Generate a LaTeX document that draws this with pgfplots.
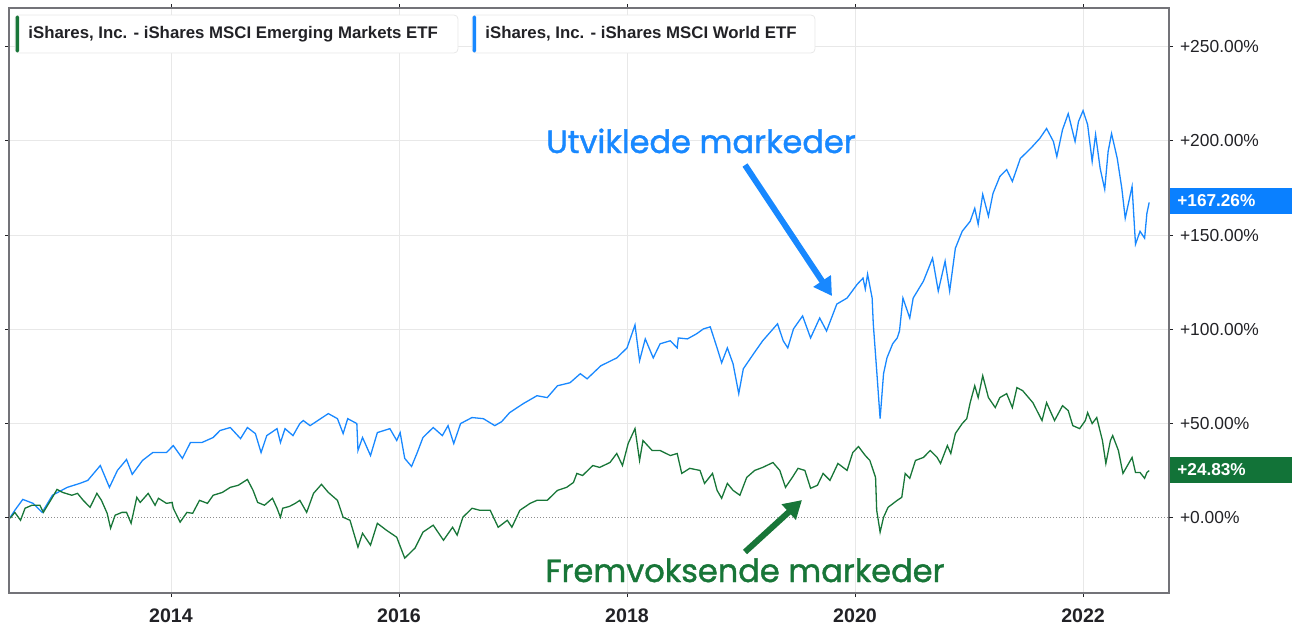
\documentclass[border=0pt]{standalone}
\usepackage{fontspec}
\setmainfont{Liberation Sans}
\newfontfamily\annfont{Poppins}[RawFeature={embolden=1.3}]
\usepackage{pgfplots}
\pgfplotsset{compat=1.18}
\usetikzlibrary{arrows.meta}
\definecolor{wblue}{RGB}{24,136,255}
\definecolor{badgeblue}{RGB}{10,128,255}
\definecolor{egreen}{RGB}{24,118,56}
\definecolor{badgegreen}{RGB}{18,115,56}
\definecolor{txt}{RGB}{34,34,38}
\definecolor{gridc}{RGB}{232,232,232}
\definecolor{framec}{RGB}{115,115,120}
\begin{document}
\begin{tikzpicture}[x=1pt,y=1pt]
\path[use as bounding box] (0,0) rectangle (650,314.5);
\begin{axis}[
  at={(4.5pt,18pt)}, anchor=south west, scale only axis,
  width=580pt, height=292.5pt,
  xmin=2012.579, xmax=2022.754, ymin=-40.25, ymax=270.65,
  axis line style={framec, line width=0.8pt},
  xtick={2014,2016,2018,2020,2022},
  xticklabels={2014,2016,2018,2020,2022},
  ytick={50,100,150,200,250},
  yticklabels={+50.00\%,+100.00\%,+150.00\%,+200.00\%,+250.00\%},
  extra y ticks={0}, extra y tick labels={+0.00\%},
  extra y tick style={grid style={densely dotted, gray!90, line width=0.6pt}},
  yticklabel pos=right,
  grid=major, grid style={gridc, line width=0.5pt},
  tick align=outside, major tick length=2pt,
  tick style={txt, line width=0.5pt},
  xticklabel style={font=\fontsize{9.8}{11}\selectfont\bfseries, text=txt, yshift=-2.5pt},
  yticklabel style={font=\fontsize{8.7}{10}\selectfont, text=txt, anchor=west, xshift=0pt},
]
\addplot[wblue, line width=0.65pt] coordinates {
(2012.59,0)(2012.63,3.7)(2012.70,9.5)(2012.79,7.4)(2012.87,2.6)(2012.96,11.7)(2013.09,15.9)(2013.20,18.0)(2013.27,19.6)(2013.38,27.5)(2013.46,15.9)(2013.53,24.9)(2013.61,30.7)(2013.66,22.8)(2013.75,30.2)(2013.84,34.4)(2013.96,34.4)(2014.02,38.1)(2014.10,31.3)(2014.17,39.7)(2014.27,39.7)(2014.37,42.4)(2014.43,46.1)(2014.52,47.7)(2014.61,41.8)(2014.67,47.7)(2014.74,44.5)(2014.79,34.4)(2014.84,43.4)(2014.93,47.1)(2014.96,39.7)(2015.00,47.1)(2015.07,43.4)(2015.13,49.8)(2015.16,51.4)(2015.22,48.7)(2015.38,55.1)(2015.46,52.4)(2015.51,44.5)(2015.55,52.4)(2015.63,49.8)(2015.64,35.5)(2015.68,42.4)(2015.75,32.8)(2015.81,45.0)(2015.92,47.1)(2015.98,40.8)(2016.01,45.0)(2016.05,31.3)(2016.11,27.0)(2016.16,34.4)(2016.21,42.4)(2016.30,47.7)(2016.38,43.4)(2016.43,48.7)(2016.48,39.2)(2016.54,49.8)(2016.64,53.0)(2016.74,52.4)(2016.84,48.7)(2016.90,50.8)(2016.97,55.6)(2017.09,60.4)(2017.21,64.6)(2017.30,63.6)(2017.39,69.9)(2017.50,71.5)(2017.59,76.3)(2017.65,73.6)(2017.77,80.5)(2017.91,84.7)(2018.00,90.0)(2018.07,102.2)(2018.11,83.2)(2018.16,94.8)(2018.23,84.7)(2018.29,92.2)(2018.38,93.8)(2018.44,90.0)(2018.45,95.3)(2018.53,94.8)(2018.61,97.5)(2018.67,100.1)(2018.73,101.2)(2018.79,90.0)(2018.83,82.1)(2018.88,90.0)(2018.93,81.6)(2018.98,65.7)(2019.02,78.9)(2019.11,86.9)(2019.19,93.8)(2019.32,102.8)(2019.37,93.8)(2019.41,90.0)(2019.46,100.1)(2019.54,107.0)(2019.61,95.3)(2019.69,105.9)(2019.75,99.0)(2019.84,113.3)(2019.93,116.5)(2020.02,123.9)(2020.07,127.1)(2020.09,121.3)(2020.11,129.2)(2020.15,116.5)(2020.16,102.8)(2020.19,77.9)(2020.22,52.4)(2020.25,76.3)(2020.28,84.7)(2020.33,92.2)(2020.37,95.3)(2020.39,99.0)(2020.42,116.5)(2020.48,105.9)(2020.51,116.5)(2020.60,125.5)(2020.68,137.7)(2020.73,120.2)(2020.79,136.1)(2020.83,120.2)(2020.88,143.0)(2020.94,152.0)(2021.01,157.3)(2021.05,164.2)(2021.08,155.7)(2021.12,171.6)(2021.17,160.0)(2021.21,172.1)(2021.27,181.1)(2021.33,184.8)(2021.38,178.5)(2021.45,190.7)(2021.54,196.0)(2021.62,201.3)(2021.68,206.6)(2021.74,199.7)(2021.77,191.7)(2021.82,206.0)(2021.87,214.5)(2021.93,199.7)(2021.96,210.3)(2022.00,216.1)(2022.04,208.7)(2022.08,189.1)(2022.11,203.4)(2022.15,185.4)(2022.19,174.3)(2022.22,194.4)(2022.25,203.9)(2022.30,190.7)(2022.34,174.8)(2022.37,158.9)(2022.43,175.8)(2022.46,145.1)(2022.50,152.0)(2022.54,148.3)(2022.56,161.5)(2022.58,167.3)
};
\addplot[egreen, line width=0.65pt] coordinates {
(2012.59,-0.5)(2012.63,2.6)(2012.68,-1.6)(2012.72,4.8)(2012.78,6.4)(2012.85,6.4)(2012.88,2.6)(2012.96,10.6)(2013.00,14.8)(2013.05,13.2)(2013.13,11.7)(2013.18,12.7)(2013.23,9.0)(2013.29,5.3)(2013.35,12.7)(2013.39,9.0)(2013.44,2.1)(2013.47,-5.8)(2013.51,1.1)(2013.57,2.6)(2013.61,2.6)(2013.65,-3.2)(2013.70,10.6)(2013.73,7.9)(2013.80,12.7)(2013.86,6.4)(2013.89,10.1)(2013.96,7.4)(2014.01,7.9)(2014.02,4.8)(2014.08,-2.6)(2014.14,2.6)(2014.19,2.1)(2014.25,9.0)(2014.32,7.4)(2014.37,11.7)(2014.45,13.2)(2014.52,15.9)(2014.59,17.0)(2014.67,20.1)(2014.72,14.3)(2014.76,7.9)(2014.82,6.4)(2014.89,10.1)(2014.93,4.8)(2014.96,0)(2014.98,4.8)(2015.04,5.8)(2015.09,7.4)(2015.13,9.0)(2015.19,2.6)(2015.25,12.7)(2015.32,17.5)(2015.38,13.2)(2015.46,9.0)(2015.51,0)(2015.57,-1.6)(2015.64,-15.9)(2015.68,-8.5)(2015.75,-14.8)(2015.81,-3.2)(2015.89,-6.9)(2015.98,-10.6)(2016.05,-21.7)(2016.14,-16.4)(2016.21,-7.9)(2016.30,-4.2)(2016.39,-12.2)(2016.47,-5.3)(2016.51,-9.5)(2016.56,0)(2016.64,4.8)(2016.71,3.7)(2016.80,3.7)(2016.87,-5.3)(2016.95,-1.6)(2016.99,-5.3)(2017.06,3.7)(2017.15,7.4)(2017.21,9.0)(2017.30,9.0)(2017.39,14.3)(2017.47,15.9)(2017.53,18.5)(2017.56,23.3)(2017.61,22.2)(2017.70,27.5)(2017.76,26.5)(2017.85,29.1)(2017.91,33.9)(2017.96,27.5)(2018.01,39.2)(2018.07,47.1)(2018.11,30.2)(2018.14,40.8)(2018.22,35.5)(2018.29,35.5)(2018.38,32.8)(2018.44,33.9)(2018.48,23.3)(2018.55,26.0)(2018.64,24.9)(2018.68,18.0)(2018.75,23.3)(2018.79,14.3)(2018.83,10.1)(2018.88,18.0)(2018.93,14.3)(2018.99,11.7)(2019.05,21.2)(2019.12,24.9)(2019.19,26.5)(2019.28,29.1)(2019.34,24.9)(2019.39,15.9)(2019.45,21.2)(2019.50,26.0)(2019.56,24.9)(2019.61,15.4)(2019.67,17.0)(2019.72,23.3)(2019.78,19.6)(2019.85,28.6)(2019.93,24.9)(2019.98,34.4)(2020.03,37.6)(2020.09,32.8)(2020.13,30.2)(2020.18,21.2)(2020.19,3.7)(2020.22,-7.9)(2020.25,0)(2020.29,5.3)(2020.37,9.0)(2020.41,10.6)(2020.44,23.3)(2020.48,20.7)(2020.53,30.2)(2020.60,31.8)(2020.66,35.5)(2020.72,31.8)(2020.75,28.6)(2020.81,38.1)(2020.84,33.9)(2020.88,44.5)(2020.94,49.8)(2020.98,52.4)(2021.01,60.9)(2021.05,69.9)(2021.08,63.6)(2021.12,75.2)(2021.17,63.6)(2021.23,58.3)(2021.27,63.6)(2021.33,65.7)(2021.38,58.3)(2021.42,68.9)(2021.47,67.3)(2021.56,60.9)(2021.64,51.4)(2021.68,60.9)(2021.75,51.4)(2021.82,59.3)(2021.87,56.7)(2021.91,48.7)(2021.97,47.1)(2022.02,51.4)(2022.04,55.6)(2022.08,49.8)(2022.12,53.0)(2022.17,40.8)(2022.20,28.6)(2022.24,40.8)(2022.26,43.4)(2022.31,35.5)(2022.35,23.3)(2022.43,31.8)(2022.46,23.8)(2022.50,23.8)(2022.54,20.7)(2022.56,23.8)(2022.58,24.8)
};
\end{axis}
% legend boxes
\draw[rounded corners=2pt, draw=gridc, fill=white] (7.5,288) rectangle (229,307);
\fill[egreen, rounded corners=0.75pt] (7.8,288.3) rectangle (9.6,306.7);
\node[anchor=west, inner sep=0pt, font=\fontsize{8.4}{10}\selectfont\bfseries, text=txt] at (14,297.5) {iShares, Inc. - iShares MSCI Emerging Markets ETF};
\draw[rounded corners=2pt, draw=gridc, fill=white] (236,288) rectangle (407.5,307);
\fill[wblue, rounded corners=0.75pt] (236.3,288.3) rectangle (238.1,306.7);
\node[anchor=west, inner sep=0pt, font=\fontsize{8.4}{10}\selectfont\bfseries, text=txt] at (242.5,297.5) {iShares, Inc. - iShares MSCI World ETF};
% end-value badges
\fill[badgeblue] (585,207.5) rectangle (646,220.5);
\node[anchor=west, inner sep=0pt, font=\fontsize{8.6}{10}\selectfont\bfseries, text=white] at (588.5,214) {+167.26\%};
\fill[badgegreen] (585,73) rectangle (646,86);
\node[anchor=west, inner sep=0pt, font=\fontsize{8.6}{10}\selectfont\bfseries, text=white] at (588.5,79.5) {+24.83\%};
% annotations
\node[anchor=base, inner sep=0pt, font=\annfont\fontsize{16}{18}\selectfont, text=wblue] at (350.5,238) {Utviklede markeder};
\draw[wblue, line width=3pt, -{Triangle[length=9pt,width=10pt]}] (372.5,232) -- (416,166.5);
\node[anchor=base, inner sep=0pt, font=\annfont\fontsize{16}{18}\selectfont, text=egreen] at (372.5,23.5) {Fremvoksende markeder};
\draw[egreen, line width=3pt, -{Triangle[length=9pt,width=10pt]}] (372.5,38.5) -- (401,64.5);
\end{tikzpicture}
\end{document}
